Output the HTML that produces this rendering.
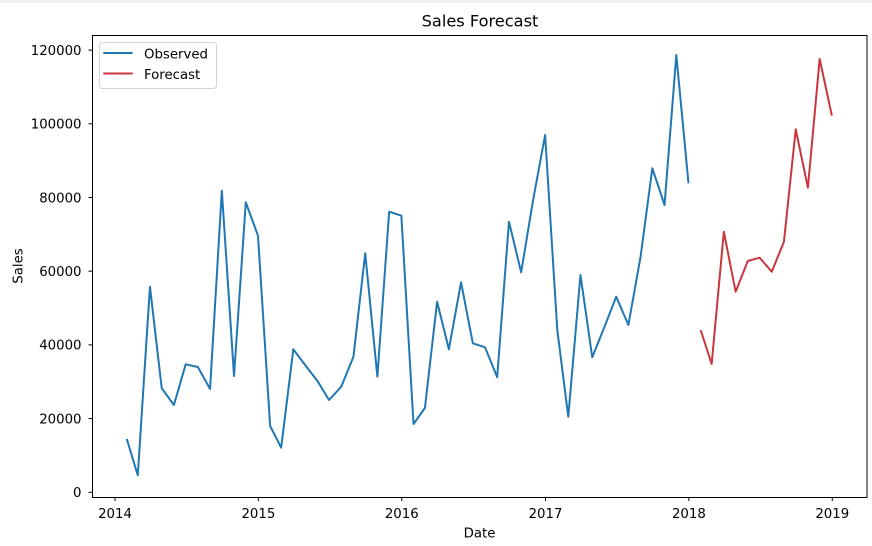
<!DOCTYPE html>
<html>
<head>
<meta charset="utf-8">
<style>
  html, body { margin: 0; padding: 0; background: #ffffff; }
  body { width: 872px; height: 546px; overflow: hidden; position: relative; }
  svg { display: block; }
  text { font-family: "DejaVu Sans", "Liberation Sans", sans-serif; fill: #000; }
</style>
</head>
<body>
<svg width="872" height="546" viewBox="0 0 872 546" xmlns="http://www.w3.org/2000/svg">
  <rect x="0" y="0" width="872" height="546" fill="#ffffff"/>
  <rect x="0" y="0" width="872" height="3" fill="#efefef"/>

  <!-- Title -->
  <text x="480" y="26.5" font-size="16.2" text-anchor="middle">Sales Forecast</text>

  <!-- Observed series -->
  <polyline fill="none" stroke="#1f77b4" stroke-width="2" stroke-linejoin="round" stroke-linecap="butt"
    points="126.78,439 137.78,475.3 149.96,286.7 161.74,388.3 173.92,405 185.70,364.3 197.88,367 210.06,389 221.84,190.7 234.02,376 245.80,202.3 257.98,235.7
            270.15,426 281.15,447.7 293.33,349.3 305.11,365 317.29,380.7 329.07,400 341.25,386.7 353.43,356.7 365.21,253.3 377.39,376.7 389.17,211.7 401.35,215.7
            413.52,424 424.92,408 437.09,301.7 448.88,349.3 461.05,282.3 472.84,343.3 485.01,347.3 497.19,377.3 508.97,221.7 521.15,272.3 532.94,201 545.11,135
            557.29,330 568.29,416.7 580.47,275 592.25,357.3 604.43,327 616.21,296.7 628.39,325 640.57,256.7 652.35,168.3 664.53,205 676.31,55 688.49,183.3"/>

  <!-- Forecast series -->
  <polyline fill="none" stroke="#c9363f" stroke-width="2" stroke-linejoin="round" stroke-linecap="butt"
    points="700.66,330 711.66,364 723.84,231.7 735.62,291.7 747.80,261 759.58,257.7 771.76,271.7 783.94,241.7 795.72,129.3 807.90,187.7 819.68,59 831.86,115.7"/>

  <!-- Axes spines -->
  <rect x="92.5" y="35.5" width="774.5" height="462" fill="none" stroke="#000" stroke-width="1"/>

  <!-- Y ticks -->
  <g stroke="#000" stroke-width="1">
    <line x1="88.5" y1="492.3" x2="92" y2="492.3"/>
    <line x1="88.5" y1="418.6" x2="92" y2="418.6"/>
    <line x1="88.5" y1="344.9" x2="92" y2="344.9"/>
    <line x1="88.5" y1="271.2" x2="92" y2="271.2"/>
    <line x1="88.5" y1="197.5" x2="92" y2="197.5"/>
    <line x1="88.5" y1="123.8" x2="92" y2="123.8"/>
    <line x1="88.5" y1="50.1" x2="92" y2="50.1"/>
  </g>
  <g font-size="13.3" text-anchor="end">
    <text x="81.5" y="497.1">0</text>
    <text x="81.5" y="423.4">20000</text>
    <text x="81.5" y="349.7">40000</text>
    <text x="81.5" y="276.0">60000</text>
    <text x="81.5" y="202.3">80000</text>
    <text x="81.5" y="128.6">100000</text>
    <text x="81.5" y="54.9">120000</text>
  </g>

  <!-- X ticks -->
  <g stroke="#000" stroke-width="1">
    <line x1="115" y1="497.5" x2="115" y2="501"/>
    <line x1="258.37" y1="497.5" x2="258.37" y2="501"/>
    <line x1="401.74" y1="497.5" x2="401.74" y2="501"/>
    <line x1="545.51" y1="497.5" x2="545.51" y2="501"/>
    <line x1="688.88" y1="497.5" x2="688.88" y2="501"/>
    <line x1="832.25" y1="497.5" x2="832.25" y2="501"/>
  </g>
  <g font-size="13.3" text-anchor="middle">
    <text x="115" y="518">2014</text>
    <text x="258.37" y="518">2015</text>
    <text x="401.74" y="518">2016</text>
    <text x="545.51" y="518">2017</text>
    <text x="688.88" y="518">2018</text>
    <text x="832.25" y="518">2019</text>
  </g>

  <!-- Axis labels -->
  <text x="479.5" y="537.5" font-size="13.3" text-anchor="middle">Date</text>
  <text x="0" y="0" font-size="13.3" text-anchor="middle" transform="translate(22.5,266) rotate(-90)">Sales</text>

  <!-- Legend -->
  <rect x="99.5" y="42.5" width="117" height="46" rx="3" ry="3" fill="#ffffff" fill-opacity="0.8" stroke="#d3d3d3" stroke-width="1"/>
  <line x1="103.3" y1="53" x2="132.7" y2="53" stroke="#1f77b4" stroke-width="2"/>
  <line x1="103.3" y1="73.5" x2="132.7" y2="73.5" stroke="#c9363f" stroke-width="2"/>
  <text x="144" y="58.3" font-size="13.3">Observed</text>
  <text x="144" y="79" font-size="13.3">Forecast</text>
</svg>
</body>
</html>
